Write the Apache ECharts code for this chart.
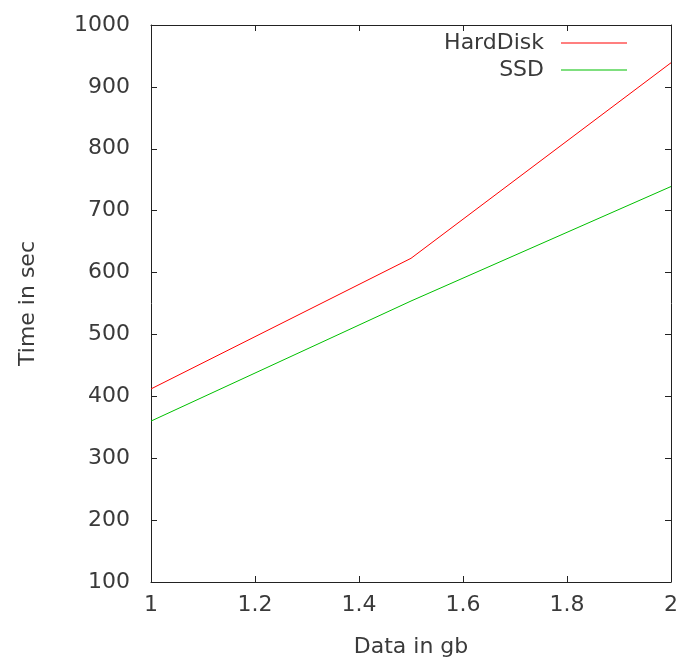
<!DOCTYPE html>
<html>
<head>
<meta charset="utf-8">
<script src="https://cdn.jsdelivr.net/npm/echarts@6/dist/echarts.min.js"></script>
<style>
  html, body { margin: 0; padding: 0; background: #fff; }
  #chart { width: 677px; height: 666px; }
</style>
</head>
<body>
<div id="chart"></div>
<script>
  // values
  const dataSizes = [1, 1.5, 2]
  const hardDisk = [412, 623, 939]
  const ssd = [360, 554, 739]

  const font = 'DejaVu Sans'
  const frame = '#222'
  const txt = '#3a3a3a'

  const pairs = (ys) => dataSizes.map((x, i) => [x, ys[i]])

  const chart = echarts.init(document.getElementById('chart'))
  chart.setOption({
    animation: false,
    backgroundColor: '#fff',
    grid: { left: 151, right: 6, top: 25, bottom: 84, outerBoundsMode: 'none' },
    legend: {
      orient: 'vertical',
      right: 50,
      top: 32,
      padding: 0,
      align: 'right',
      icon: 'rect',
      itemWidth: 66,
      itemHeight: 1,
      itemGap: 5,
      textStyle: { fontFamily: font, fontSize: 22, color: txt, padding: [0, 12, 0, 0] },
      data: ['HardDisk', 'SSD']
    },
    xAxis: [{
      type: 'value',
      min: 1,
      max: 2,
      interval: 0.2,
      name: 'Data in gb',
      nameLocation: 'middle',
      nameGap: 54,
      nameTextStyle: { fontFamily: font, fontSize: 22, color: txt },
      axisLine: { show: true, lineStyle: { color: frame, width: 1 } },
      axisTick: { show: true, inside: true, length: 6, lineStyle: { color: frame } },
      axisLabel: { fontFamily: font, fontSize: 22, color: txt, margin: 12 },
      splitLine: { show: false }
    }, {
      type: 'value',
      position: 'top',
      min: 1,
      max: 2,
      interval: 0.2,
      axisLine: { show: true, lineStyle: { color: frame, width: 1 } },
      axisTick: { show: true, inside: true, length: 6, lineStyle: { color: frame } },
      axisLabel: { show: false },
      splitLine: { show: false }
    }],
    yAxis: [{
      type: 'value',
      min: 100,
      max: 1000,
      interval: 100,
      name: 'Time in sec',
      nameLocation: 'middle',
      nameGap: 112,
      nameTextStyle: { fontFamily: font, fontSize: 22, color: txt },
      axisLine: { show: true, lineStyle: { color: frame, width: 1 } },
      axisTick: { show: true, inside: true, length: 6, lineStyle: { color: frame } },
      axisLabel: { fontFamily: font, fontSize: 22, color: txt, margin: 21, formatter: (v) => String(v) },
      splitLine: { show: false }
    }, {
      type: 'value',
      position: 'right',
      min: 100,
      max: 1000,
      interval: 100,
      axisLine: { show: true, lineStyle: { color: frame, width: 1 } },
      axisTick: { show: true, inside: true, length: 6, lineStyle: { color: frame } },
      axisLabel: { show: false },
      splitLine: { show: false }
    }],
    series: [{
      name: 'HardDisk',
      type: 'line',
      symbol: 'none',
      color: '#ff0000',
      lineStyle: { width: 1, color: '#ff0000' },
      data: pairs(hardDisk)
    }, {
      name: 'SSD',
      type: 'line',
      symbol: 'none',
      color: '#00c000',
      lineStyle: { width: 1, color: '#00c000' },
      data: pairs(ssd)
    }]
  })
</script>
</body>
</html>
